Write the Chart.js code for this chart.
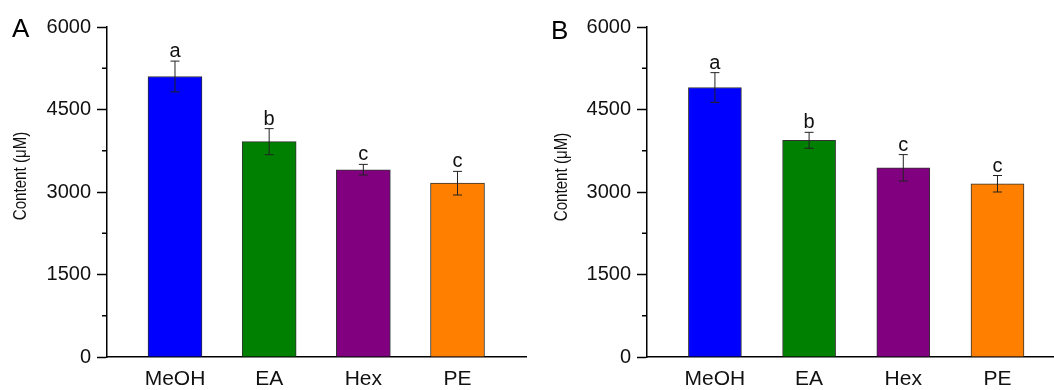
<!DOCTYPE html>
<html>
<head>
<meta charset="utf-8">
<script src="https://cdn.jsdelivr.net/npm/chart.js@4"></script>
<style>
  body { margin: 0; background: #fff; }
  #wrap { position: relative; width: 1054px; height: 390px; overflow: hidden; }
  canvas { position: absolute; top: 0; }
  .panel { position: absolute; font-family: "Liberation Sans", Arial, sans-serif; font-size: 26px; line-height: 26px; color: #000; }
  .ytitle { position: absolute; width: 200px; height: 20px; line-height: 20px; text-align: center;
            font-family: "Liberation Sans", Arial, sans-serif; font-size: 18px; color: #111;
            transform: rotate(-90deg) scaleX(0.84); transform-origin: 50% 50%; }
</style>
</head>
<body>
<div id="wrap">
  <canvas id="chart-a" width="527" height="390" style="left:0"></canvas>
  <canvas id="chart-b" width="527" height="390" style="left:527px"></canvas>
  <div class="panel" style="left:12px; top:15px">A</div>
  <div class="panel" style="left:551px; top:17px">B</div>
  <div class="ytitle" style="left:-80px; top:166px">Content (μM)</div>
  <div class="ytitle" style="left:461px; top:167px">Content (μM)</div>
</div>
<script>
// categories
var solvents = ["MeOH", "EA", "Hex", "PE"];
var barColors = ["#0000ff", "#008000", "#800080", "#ff8000"];

// panel A
var contentA = [5100, 3915, 3405, 3160];
var errorA = [280, 237, 97, 215];
var lettersA = ["a", "b", "c", "c"];

// panel B
var contentB = [4900, 3940, 3440, 3150];
var errorB = [270, 145, 240, 150];
var lettersB = ["a", "b", "c", "c"];

// y axis
var yMin = 0;
var yMax = 6000;
var yMajor = 1500;
var yMinor = 750;

var fontFamily = "'Liberation Sans', Arial, sans-serif";

// error bars, significance letters and minor ticks
var extrasPlugin = {
  id: "extras",
  afterDatasetsDraw: function (chart, args, opts) {
    var ctx = chart.ctx;
    var xs = chart.scales.x;
    var ys = chart.scales.y;
    var values = opts.values;
    ctx.save();
    ctx.strokeStyle = "#222";
    ctx.lineWidth = 1;
    ctx.fillStyle = "#111";
    ctx.font = "20px " + fontFamily;
    ctx.textAlign = "center";
    ctx.textBaseline = "alphabetic";
    for (var i = 0; i < values.length; i++) {
      var x = xs.getPixelForValue(i);
      var top = ys.getPixelForValue(values[i] + opts.errors[i]);
      var bot = ys.getPixelForValue(values[i] - opts.errors[i]);
      ctx.beginPath();
      ctx.moveTo(x, top);
      ctx.lineTo(x, bot);
      ctx.moveTo(x - 4.5, top);
      ctx.lineTo(x + 4.5, top);
      ctx.moveTo(x - 4.5, bot);
      ctx.lineTo(x + 4.5, bot);
      ctx.stroke();
      ctx.fillText(opts.letters[i], x, top - 4);
    }
    // minor ticks on y axis
    ctx.strokeStyle = "#000";
    ctx.lineWidth = 1.5;
    ys.ticks.forEach(function (t) {
      if (t.value % yMajor !== 0) {
        var y = ys.getPixelForValue(t.value);
        ctx.beginPath();
        ctx.moveTo(chart.chartArea.left - 5, y);
        ctx.lineTo(chart.chartArea.left, y);
        ctx.stroke();
      }
    });
    ctx.restore();
  },
};

function makeChart(id, values, errors, letters, axisWidth, xMin, xMax, barWidth) {
  var ctx = document.getElementById(id).getContext("2d");
  return new Chart(ctx, {
    type: "bar",
    data: {
      datasets: [
        {
          data: values.map(function (v, i) {
            return { x: i, y: v };
          }),
          backgroundColor: barColors,
          borderColor: "#333",
          borderWidth: 1,
          barThickness: barWidth,
        },
      ],
    },
    options: {
      responsive: false,
      animation: false,
      layout: { padding: { top: 27, left: 0, right: 0, bottom: 0 } },
      plugins: {
        legend: { display: false },
        tooltip: { enabled: false },
        extras: { values: values, errors: errors, letters: letters },
      },
      scales: {
        x: {
          type: "linear",
          offset: false,
          min: xMin,
          max: xMax,
          afterBuildTicks: function (scale) {
            scale.ticks = solvents.map(function (s, i) {
              return { value: i };
            });
          },
          afterFit: function (scale) {
            scale.height = 33;
          },
          ticks: {
            autoSkip: false,
            maxRotation: 0,
            padding: 2,
            color: "#111",
            font: { family: fontFamily, size: 21 },
            callback: function (v) {
              return solvents[v];
            },
          },
          grid: { display: false, offset: false },
          border: { display: true, color: "#000", width: 1.5 },
        },
        y: {
          min: yMin,
          max: yMax,
          afterFit: function (scale) {
            scale.width = axisWidth;
          },
          ticks: {
            stepSize: yMinor,
            padding: 6,
            color: "#111",
            font: { family: fontFamily, size: 20 },
            callback: function (v) {
              return v % yMajor === 0 ? v : "";
            },
          },
          grid: {
            drawOnChartArea: false,
            tickLength: 10,
            tickWidth: 1.5,
            tickColor: function (c) {
              return c.tick && c.tick.value % yMajor === 0 ? "#000" : "rgba(0,0,0,0)";
            },
          },
          border: { color: "#000", width: 1.5 },
        },
      },
    },
    plugins: [extrasPlugin],
  });
}

var chartA = makeChart("chart-a", contentA, errorA, lettersA, 107, -0.722, 3.738, 54);
var chartB = makeChart("chart-b", contentB, errorB, lettersB, 120, -0.721, 3.6, 53);
</script>
</body>
</html>
